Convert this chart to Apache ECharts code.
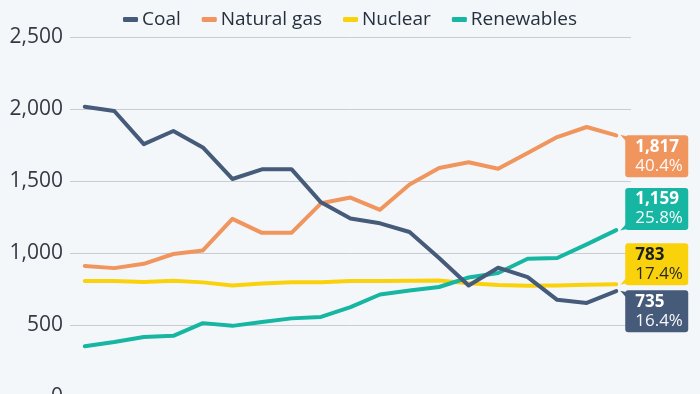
<!DOCTYPE html>
<html><head><meta charset="utf-8">
<script src="https://cdn.jsdelivr.net/npm/echarts@6/dist/echarts.min.js"></script>
<style>html,body{margin:0;padding:0;background:#f4f7fa}#c{width:700px;height:394px}</style>
</head><body><div id="c"></div>
<script>
const years = ['2007','2008','2009','2010','2011','2012','2013','2014','2015','2016','2017','2018','2019','2020','2021','2022','2023','2024','2025'];
const coal = [2016,1986,1756,1847,1733,1514,1581,1582,1352,1239,1206,1146,965,774,898,832,675,653,735];
const gas = [910,895,925,993,1018,1237,1140,1140,1345,1385,1300,1475,1590,1630,1585,1695,1805,1875,1817];
const nuclear = [806,806,799,807,796,775,789,797,797,805,805,807,809,790,778,772,775,780,783];
const renewables = [352,382,417,425,513,494,521,546,556,624,712,740,764,830,861,960,965,1060,1159];
const shares = {Coal:'16.4%', 'Natural gas':'40.4%', Nuclear:'17.4%', Renewables:'25.8%'};
const yTicks = [0,500,1000,1500,2000,2500];

const colors = {Coal:'#465a79', 'Natural gas':'#f0955e', Nuclear:'#fad20c', Renewables:'#17b6a3'};
const FONT = '"Open Sans", sans-serif';

function fmt(v){return v.toLocaleString('en-US');}
function mkSeries(name, data, dy, tabDown, textColor){
  const last = data.length-1;
  return {
    name, type:'line', data, symbol:'none', smooth:false,
    lineStyle:{width:4, color:colors[name], cap:'round', join:'round'},
    itemStyle:{color:colors[name]},
    z: name==='Coal'?5:3,
    endLabel:{
      show:true, distance:9, offset:[0,dy], align:'left', verticalAlign:'middle',
      backgroundColor:colors[name], borderRadius:3, padding:[2,6,2,10], width:47,
      formatter:p=>'{a|'+fmt(p.value)+'}\n{b|'+shares[name]+'}',
      rich:{
        a:{fontFamily:FONT, fontSize:17, fontWeight:'bold', color:textColor, lineHeight:19},
        b:{fontFamily:FONT, fontSize:17, color:textColor, lineHeight:19, opacity:0.95}
      }
    },
    markPoint:{
      silent:true,
      symbol: tabDown ? 'path://M0,10 L8,8 L8,0 Z' : 'path://M0,0 L8,2 L8,10 Z',
      symbolSize:[8,9], symbolKeepAspect:false,
      symbolOffset:[8, tabDown ? -4 : 4],
      itemStyle:{color:colors[name]},
      label:{show:false},
      data:[{coord:[last, data[last]]}]
    }
  };
}

const chart = echarts.init(document.getElementById('c'), null, {renderer:'canvas'});
chart.setOption({
  backgroundColor:'#f4f7fa',
  animation:false,
  legend:{
    top:5, left:'center', itemWidth:15, itemHeight:5, itemGap:21, icon:'roundRect',
    textStyle:{fontFamily:FONT, fontSize:19, color:'#25303e', padding:[0,0,0,-1]},
    data:['Coal','Natural gas','Nuclear','Renewables']
  },
  grid:{left:70, right:69, top:37, height:360, containLabel:false, outerBoundsMode:'none'},
  xAxis:{type:'category', data:years, boundaryGap:true, show:false},
  yAxis:{
    type:'value', min:yTicks[0], max:yTicks[yTicks.length-1], interval:500,
    axisLine:{show:false}, axisTick:{show:false},
    axisLabel:{fontFamily:FONT, fontSize:21, color:'#333a44', margin:7, formatter:v=>fmt(v)},
    splitLine:{lineStyle:{color:'#c9cdd3', width:1}}
  },
  series:[
    mkSeries('Coal', coal, 20, false, '#ffffff'),
    mkSeries('Natural gas', gas, 21, false, '#ffffff'),
    mkSeries('Nuclear', nuclear, -20, true, '#1b1f26'),
    mkSeries('Renewables', renewables, -21, true, '#ffffff')
  ]
});
</script></body></html>
